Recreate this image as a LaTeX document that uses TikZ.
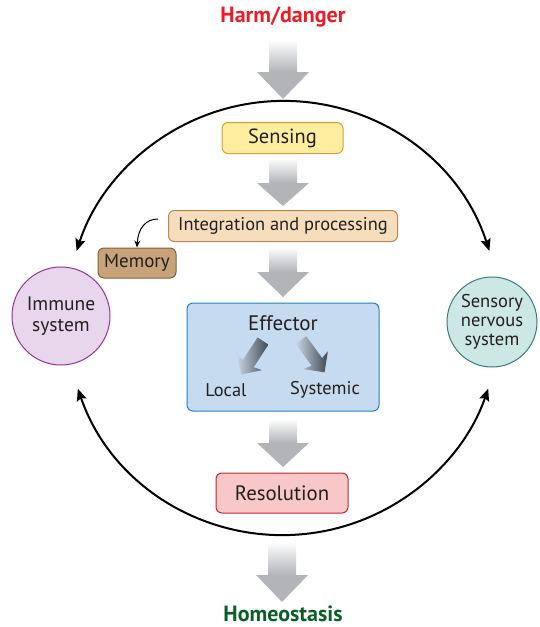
\documentclass[tikz,border=0pt]{standalone}
\usepackage{fontspec}
\setmainfont{PT Sans}
\usetikzlibrary{arrows.meta,calc}
\definecolor{harmred}{RGB}{237,28,36}
\definecolor{homgreen}{RGB}{10,95,40}
\definecolor{txt}{RGB}{35,31,32}
\definecolor{agray}{RGB}{178,180,184}
\definecolor{sensfill}{RGB}{255,238,160}
\definecolor{sensdraw}{RGB}{215,160,50}
\definecolor{intfill}{RGB}{246,222,188}
\definecolor{intdraw}{RGB}{185,135,85}
\definecolor{memfill}{RGB}{200,163,122}
\definecolor{memdraw}{RGB}{135,95,55}
\definecolor{efffill}{RGB}{199,219,240}
\definecolor{effdraw}{RGB}{30,130,200}
\definecolor{resfill}{RGB}{248,200,200}
\definecolor{resdraw}{RGB}{200,35,45}
\definecolor{immfill}{RGB}{232,215,236}
\definecolor{immdraw}{RGB}{150,50,150}
\definecolor{senfill}{RGB}{205,232,228}
\definecolor{sendraw}{RGB}{55,125,125}
\definecolor{edark}{RGB}{62,72,82}
\definecolor{emid}{RGB}{120,132,145}
\definecolor{elight}{RGB}{200,214,230}
\newcommand\garrow[4]{%
  \shade[top color=white, bottom color=agray] (#1-14,#2) rectangle (#1+14,#3);
  \fill[agray] (#1-26,#3) -- (#1+26,#3) -- (#1,#4) -- cycle;}
\newcommand\earrow[3]{%
  \begin{scope}[shift={(#1,#2)}, rotate=#3]
    \shade[left color=elight, middle color=emid, right color=edark, x=1pt, y=1pt]
      (0,-6.5) -- (27,-6.5) -- (25,-15) -- (40,0) -- (25,15) -- (27,6.5) -- (0,6.5) -- cycle;
  \end{scope}}
\newcommand\fs[1]{\fontsize{#1}{#1}\selectfont}
\tikzset{
  lbl/.style={text=txt, inner sep=0pt},
  boxbase/.style={draw, rounded corners=6pt, line width=1pt, text=txt, inner sep=0pt},
  cyc/.style={line width=2pt, {Stealth[length=12pt,width=10pt,inset=2pt]}-{Stealth[length=12pt,width=10pt,inset=2pt]}},
}
\begin{document}
\begin{tikzpicture}[x=1pt,y=-1pt]
\useasboundingbox (0,0) rectangle (539,627);
% title texts
\node[text=harmred, font=\fs{22}\bfseries] (harm) at (283,17) {Harm/danger};
\node[text=homgreen, font=\fs{22}\bfseries] (home) at (283,614) {Homeostasis};
% big circle arcs
\coordinate (c) at (283,318);
\draw[cyc] ($(c)+(-18:217)$) coordinate (tr) arc[start angle=-18, end angle=-162, radius=217] coordinate (tl);
\draw[cyc] ($(c)+(161:217)$) coordinate (bl) arc[start angle=161, end angle=19, radius=217] coordinate (br);
% gray arrows
\garrow{283}{40}{72}{99}
\garrow{283}{158}{183}{206}
\garrow{283}{247}{272}{297}
\garrow{283}{419}{443}{467}
\garrow{282}{542}{575}{602}
% boxes
\node[boxbase, fill=sensfill, draw=sensdraw, minimum width=121pt, minimum height=31pt, font=\fs{20.5}] (sens) at (282.5,138) {Sensing};
\node[boxbase, fill=intfill, draw=intdraw, minimum width=229pt, minimum height=31pt, font=\fs{18.4}] (int) at (283,226) {Integration and processing};
\node[boxbase, fill=memfill, draw=memdraw, minimum width=78pt, minimum height=30pt, font=\fs{19}] (mem) at (137,263) {Memory};
\node[boxbase, fill=efffill, draw=effdraw, minimum width=192pt, minimum height=108pt] (eff) at (283,357) {};
\node[boxbase, fill=resfill, draw=resdraw, minimum width=132pt, minimum height=40pt, font=\fs{20.8}] (res) at (282,493) {Resolution};
% effector content
\node[lbl, font=\fs{21}] (efft) at (283,323) {Effector};
\node[lbl, font=\fs{18.4}] (loc) at (226,390) {Local};
\node[lbl, font=\fs{18.4}] (sys) at (325,390) {Systemic};
\earrow{263}{341}{237}
\earrow{301}{340}{-54}
% memory arrow
\coordinate (ms) at ($(int.west)+(-10,-7)$);
\draw[line width=1pt, -{Stealth[length=7pt,width=6pt]}] (ms) .. controls (146,219) and (138,228) .. (mem.north);
% circles
\node[circle, draw=immdraw, fill=immfill, line width=1pt, minimum size=98pt, inner sep=0pt, align=center, text=txt, font=\fontsize{19.5}{21}\selectfont] (imm) at (61,316) {Immune\\system};
\node[circle, draw=sendraw, fill=senfill, line width=1pt, minimum size=90pt, inner sep=0pt, align=center, text=txt, font=\fontsize{18.5}{19}\selectfont] (sen) at (492,322) {Sensory\\nervous\\system};
\end{tikzpicture}
\end{document}
